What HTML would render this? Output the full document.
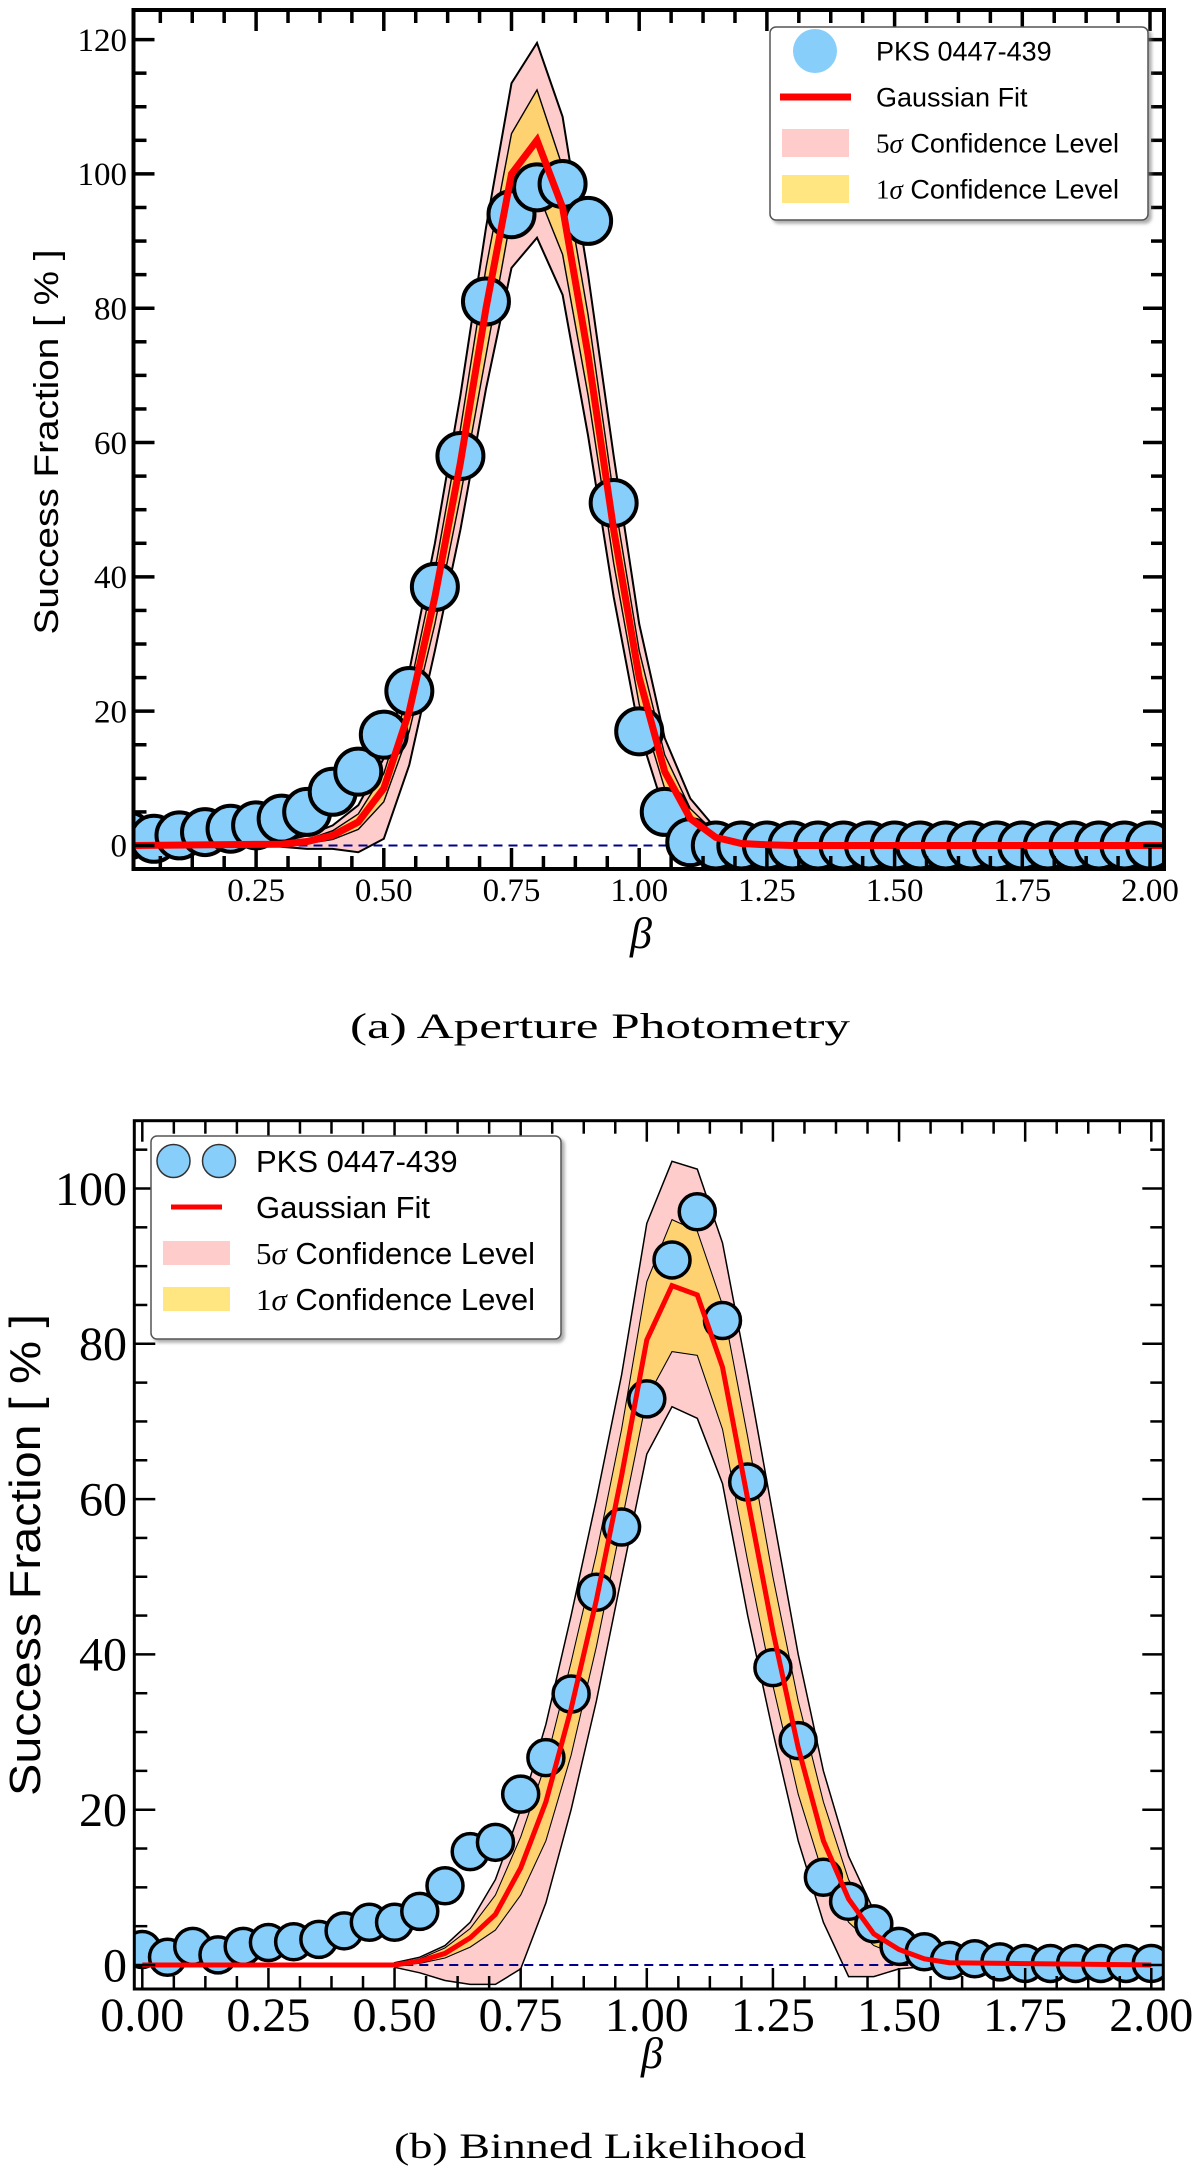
<!DOCTYPE html>
<html><head><meta charset="utf-8"><style>
html,body{margin:0;padding:0;background:#fff;}
svg{display:block;}
</style></head><body>
<svg id="fig" width="1200" height="2167" viewBox="0 0 1200 2167" xmlns="http://www.w3.org/2000/svg">
<defs>
<clipPath id="clipA"><rect x="133.5" y="10" width="1030.5" height="859"/></clipPath>
<clipPath id="clipB"><rect x="134.3" y="1120.7" width="1029" height="868.3"/></clipPath>
<filter id="shadow" x="-5%" y="-5%" width="115%" height="120%"><feDropShadow dx="3" dy="3" stdDeviation="1.5" flood-color="#777" flood-opacity="0.6"/></filter>
</defs>
<g id="panelA"></g>
<g id="panelB"></g>
</svg>
<script>
// ---------- Panel A data ----------
const aPointX = [0.00,0.05,0.10,0.15,0.20,0.25,0.30,0.35,0.40,0.45,0.50,0.55,0.60,0.65,0.70,0.75,0.80,0.85,0.90,0.95,1.00,1.05,1.10,1.15,1.20,1.25,1.30,1.35,1.40,1.45,1.50,1.55,1.60,1.65,1.70,1.75,1.80,1.85,1.90,1.95,2.00];
const aPointY = [1.5,1,1.5,2,2.5,3,4,5,8,11,16.5,23,38.5,58,81,94,98,98.5,93,51,17,5,0.5,0,0,0,0,0,0,0,0,0,0,0,0,0,0,0,0,0,0];
const aBandX = [0.30,0.35,0.40,0.45,0.50,0.55,0.60,0.65,0.70,0.75,0.80,0.85,0.90,0.95,1.00,1.05,1.10,1.15,1.20,1.25,1.30];
const aFit    = [0.2,0.6,1.5,3.5,8.5,20,37,57,80,100,105,95,73,47,25,11,4,1.2,0.3,0.1,0];
const aUp5    = [0.6,1.5,3,6,13,26,45,67,92,113.5,119.5,108.5,85,58,33,16,7,2.5,0.8,0.2,0];
const aLo5    = [-0.2,-0.5,-0.5,-1,1,12,29,47,68,86,90.5,82,61,37,17,5,0.5,-0.3,0,0,0];
const aUp1    = [0.3,0.9,2.2,4.7,10.7,23,41,62,86,106,112.5,101,79,52,29,13.5,5.5,1.8,0.5,0.1,0];
const aLo1    = [0.1,0.3,0.9,2.4,6.5,17,33,52,73,94,97.5,88,67,42,21,8.5,2.7,0.7,0.1,0,0];
const aXTicks = ["0.25","0.50","0.75","1.00","1.25","1.50","1.75","2.00"];
const aYTicks = ["0","20","40","60","80","100","120"];
// ---------- Panel B data ----------
const bPointX = [0.00,0.05,0.10,0.15,0.20,0.25,0.30,0.35,0.40,0.45,0.50,0.55,0.60,0.65,0.70,0.75,0.80,0.85,0.90,0.95,1.00,1.05,1.10,1.15,1.20,1.25,1.30,1.35,1.40,1.45,1.50,1.55,1.60,1.65,1.70,1.75,1.80,1.85,1.90,1.95,2.00];
const bPointY = [2,1,2.4,1.3,2.4,2.9,3,3.3,4.4,5.5,5.5,6.9,10.2,14.6,15.8,22,26.7,34.9,48,56.4,72.9,90.8,97,83,62.2,38.3,28.9,11.3,8.2,5.3,2.4,1.7,0.6,0.8,0.4,0.2,0.2,0.2,0.2,0.2,0.2];
const bBandX = [0.50,0.55,0.60,0.65,0.70,0.75,0.80,0.85,0.90,0.95,1.00,1.05,1.10,1.15,1.20,1.25,1.30,1.35,1.40,1.45,1.50,1.55,1.60];
const bFit = [0,0.5,1.5,3.5,6.5,12.5,21,33,47,63,80.5,87.5,86.3,77,60,43,28,16,8.5,4,2,0.8,0.3];
const bUp5 = [0.3,1,2.5,5.5,11,20,31,45,60,76,95.5,103.5,102.5,93,76,58,40,25,14,7,3.5,1.5,0.6];
const bLo5 = [-0.3,-1,-2,-2.5,-2.5,-0.5,8,20,34,50,65.8,71.9,70.4,62,45,30,16,5.5,-1.5,-1.5,-0.5,-0.2,0];
const bUp1 = [0.1,0.8,2.2,4.7,9,16.5,26,39,53,69,88,96,94.5,85,68,50,34,21,11,5.5,2.5,1,0.4];
const bLo1 = [0,0.2,0.9,2.3,4.5,9,16,27,41,57,73,79,78.5,69,52,36,22,11.5,5.5,2.5,1.2,0.5,0.1];
const bXTicks = ["0.00","0.25","0.50","0.75","1.00","1.25","1.50","1.75","2.00"];
const bYTicks = ["0","20","40","60","80","100"];

const NS = "http://www.w3.org/2000/svg";
function mk(parent, tag, attrs){
  const e = document.createElementNS(NS, tag);
  for (const k in attrs) e.setAttribute(k, attrs[k]);
  parent.appendChild(e);
  return e;
}

function drawPanel(cfg){
  const g = document.getElementById(cfg.id);
  const X = cfg.xs, Y = cfg.ys;
  const plot = mk(g, 'g', {'clip-path': 'url(#' + cfg.clip + ')'});
  
  
  function bandPath(xs, up, lo){
    let d = '';
    xs.forEach((v,i)=>{ d += (i?'L':'M') + X(v).toFixed(1) + ',' + Y(up[i]).toFixed(1); });
    for (let i = xs.length-1; i >= 0; i--) d += 'L' + X(xs[i]).toFixed(1) + ',' + Y(lo[i]).toFixed(1);
    return d + 'Z';
  }
  const b5 = mk(plot, 'path', {d: bandPath(cfg.bandX, cfg.up5, cfg.lo5), fill: '#ffcccc', stroke: '#000', 'stroke-width': cfg.edgeW});
  
  
  const b1 = mk(plot, 'path', {d: bandPath(cfg.bandX, cfg.up1, cfg.lo1), fill: '#fed171', stroke: '#000', 'stroke-width': cfg.edgeW*0.7});
  
  
  const zl = mk(plot, 'line', {x1: cfg.x0, x2: cfg.x1, y1: Y(0), y2: Y(0), stroke: '#00008b', 'stroke-width': 2, 'stroke-dasharray': '9,6'});
  
  
  const pts = mk(plot, 'g', {});
  
  
  cfg.px.forEach((v,i)=>{
    const c = mk(pts, 'circle', {cx: X(v), cy: Y(cfg.py[i]), r: cfg.r, fill: '#87cefa', stroke: '#000', 'stroke-width': cfg.mw});
    
    
  });
  // fit line across full range
  const fx = [cfg.fitStart].concat(cfg.bandX).concat([cfg.fitEnd]);
  const fy = [0].concat(cfg.fit).concat([0]);
  let d = '';
  fx.forEach((v,i)=>{ d += (i?'L':'M') + X(v).toFixed(1) + ',' + Y(fy[i]).toFixed(1); });
  const fl = mk(plot, 'path', {d: d, fill: 'none', stroke: '#ff0000', 'stroke-width': cfg.fitW, 'stroke-linejoin': 'miter'});
  
  

  // axes frame
  const fr = mk(g, 'rect', {x: cfg.x0, y: cfg.y0, width: cfg.x1-cfg.x0, height: cfg.y1-cfg.y0, fill: 'none', stroke: '#000', 'stroke-width': cfg.axW});
  
  
  const tk = mk(g, 'g', {stroke: '#000', 'stroke-width': cfg.tkW});
  
  
  // x ticks every 0.0625
  for (let k = -8; k <= 40; k++){
    const v = cfg.tickBase + k*0.0625;
    const x = X(v);
    if (x < cfg.x0+2 || x > cfg.x1-2) continue;
    const major = (k % 4 === 0);
    const L = major ? 21 : 13;
    mk(tk, 'line', {x1: x, x2: x, y1: cfg.y1, y2: cfg.y1-L});
    mk(tk, 'line', {x1: x, x2: x, y1: cfg.y0, y2: cfg.y0+L});
  }
  for (let v = -5; v <= 130; v += 5){
    const y = Y(v);
    if (y < cfg.y0+2 || y > cfg.y1-2) continue;
    const L = (v % 20 === 0) ? 21 : 13;
    mk(tk, 'line', {x1: cfg.x0, x2: cfg.x0+L, y1: y, y2: y});
    mk(tk, 'line', {x1: cfg.x1, x2: cfg.x1-L, y1: y, y2: y});
  }
  // tick labels
  cfg.xTicks.forEach(s=>{
    const t = mk(g, 'text', {x: X(parseFloat(s)), y: cfg.xLabY, 'text-anchor': 'middle', 'font-family': '"Liberation Serif", serif', 'font-size': cfg.tickFS});
    t.textContent = s;
    
    
  });
  cfg.yTicks.forEach(s=>{
    const t = mk(g, 'text', {x: 127, y: Y(parseFloat(s)) + cfg.tickFS*0.34, 'text-anchor': 'end', 'font-family': '"Liberation Serif", serif', 'font-size': cfg.tickFS});
    t.textContent = s;
    
    
  });
  // axis titles
  const yt = mk(g, 'text', {x: 0, y: 0, transform: 'translate(' + cfg.ylX + ',' + cfg.ylY + ') rotate(-90)', 'text-anchor': 'middle', 'font-family': '"Liberation Sans", sans-serif', 'font-size': cfg.ylFS, textLength: cfg.ylLen, lengthAdjust: 'spacingAndGlyphs'});
  yt.textContent = 'Success Fraction [ % ]';
  
  
  const xt = mk(g, 'text', {x: cfg.btX, y: cfg.btY, 'text-anchor': 'middle', 'font-family': '"Liberation Serif", serif', 'font-style': 'italic', 'font-size': 44});
  xt.textContent = 'β';
  
  
  const cap = mk(g, 'text', {x: 600, y: cfg.capY, 'text-anchor': 'middle', 'font-family': '"Liberation Serif", serif', 'font-size': 36, textLength: cfg.capLen, lengthAdjust: 'spacingAndGlyphs'});
  cap.textContent = cfg.caption;
  
  

  // legend
  const L = cfg.leg;
  const lg = mk(g, 'g', {});
  
  
  mk(lg, 'rect', {x: L.x, y: L.y, width: L.w, height: L.h, rx: 6, fill: '#fff', stroke: '#555', 'stroke-width': 1.5, filter: 'url(#shadow)'});
  const rows = [['PKS 0447-439',''],['Gaussian Fit',''],['5','σ Confidence Level'],['1','σ Confidence Level']];
  rows.forEach((r,i)=>{
    const cy = L.row0 + i*L.dy;
    const row = mk(lg, 'g', {});
    
    
    if (i === 0){
      L.mx.forEach(mx=>{ mk(row, 'circle', {cx: mx, cy: cy, r: L.mr, fill: '#87cefa', stroke: L.mStroke, 'stroke-width': 1.5}); });
    } else if (i === 1){
      mk(row, 'line', {x1: L.sx0 + L.lineInset, x2: L.sx1 - L.lineInset, y1: cy, y2: cy, stroke: '#ff0000', 'stroke-width': L.lw});
    } else {
      mk(row, 'rect', {x: L.sx0, y: cy - L.ph/2, width: L.sx1 - L.sx0, height: L.ph, fill: i === 2 ? '#ffcccc' : '#ffe680'});
    }
    const t = mk(row, 'text', {x: L.tx, y: cy + L.fs*0.36, 'font-family': '"Liberation Sans", sans-serif', 'font-size': L.fs});
    if (i < 2){ t.textContent = r[0]; }
    else {
      const a = mk(t, 'tspan', {'font-family': '"Liberation Serif", serif'}); a.textContent = r[0];
      const b = mk(t, 'tspan', {'font-family': '"Liberation Serif", serif', 'font-style': 'italic'}); b.textContent = 'σ';
      const c = mk(t, 'tspan', {}); c.textContent = ' Confidence Level';
    }
  });
}

const xa = v => 128.4 + 510.8*v, ya = v => 845.5 - 6.716*v;
const xb = v => 142.3 + 504.5*v, yb = v => 1965 - 7.765*v;

drawPanel({id:'panelA', clip:'clipA', xs:xa, ys:ya, x0:133.5, x1:1164, y0:10, y1:869,
  px:aPointX, py:aPointY, bandX:aBandX, fit:aFit, up5:aUp5, lo5:aLo5, up1:aUp1, lo1:aLo1,
  fitStart:0, fitEnd:2.05, r:23, mw:4, fitW:7, edgeW:2, axW:4, tkW:3.5, tickBase:0.25,
  xTicks:aXTicks, yTicks:aYTicks, tickFS:33, xLabY:901,
  ylX:58, ylY:442, ylFS:34, ylLen:385, btX:641, btY:948, capY:1038, capLen:500,
  caption:'(a)  Aperture Photometry',
  leg:{x:770, y:27, w:378, h:193, row0:51, dy:46, mx:[815], mr:22, mStroke:'none', sx0:782, sx1:849, lineInset:-2, lw:7, ph:28, tx:876, fs:27}
});
drawPanel({id:'panelB', clip:'clipB', xs:xb, ys:yb, x0:134.3, x1:1163.3, y0:1120.7, y1:1989,
  px:bPointX, py:bPointY, bandX:bBandX, fit:bFit, up5:bUp5, lo5:bLo5, up1:bUp1, lo1:bLo1,
  fitStart:0, fitEnd:2.0, r:18, mw:3.5, fitW:5, edgeW:1.5, axW:3, tkW:2.5, tickBase:0,
  xTicks:bXTicks, yTicks:bYTicks, tickFS:48, xLabY:2031,
  ylX:40, ylY:1555, ylFS:44, ylLen:482, btX:652, btY:2068, capY:2158, capLen:412,
  caption:'(b)  Binned Likelihood',
  leg:{x:151, y:1136, w:410, h:203, row0:1161, dy:46, mx:[173.5,219], mr:16.5, mStroke:'#333', sx0:163, sx1:230, lineInset:8, lw:5, ph:24, tx:256, fs:31}
});
</script>
</body></html>
